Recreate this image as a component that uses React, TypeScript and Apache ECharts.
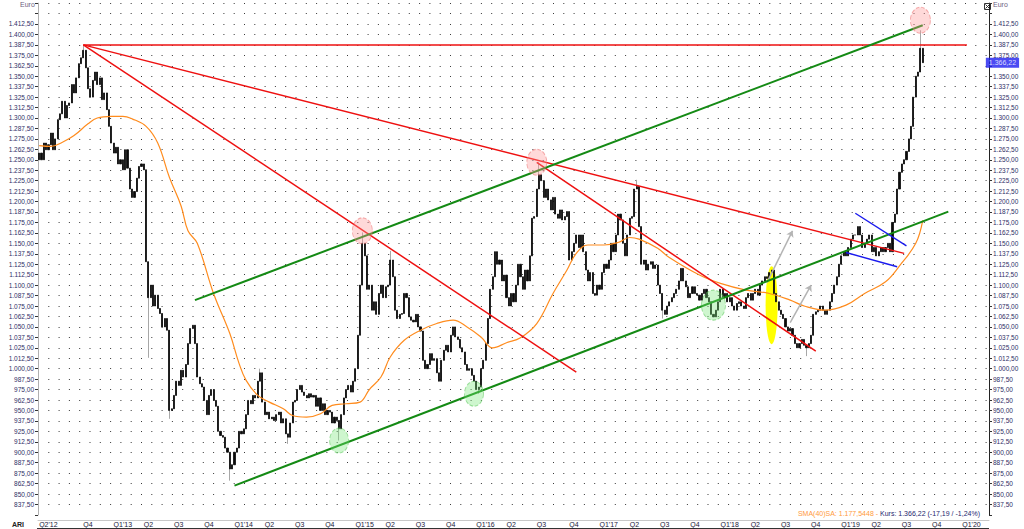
import React, { useEffect, useRef } from 'react';
import * as echarts from 'echarts';

// ---------- data ----------
const START_UTC = Date.UTC(2012, 4, 21); // Monday of first weekly bar
const WEEK_COUNT = 409; // axis extends to spring 2020
const firstOpen = 1250;

// weekly closes (EUR), May 2012 – Sep 2019
const closes = [
  1258, 1250, 1270, 1262, 1268, 1282, 1262, 1275, 1298, 1305,
  1320, 1300, 1315, 1318, 1340, 1330, 1348, 1365, 1372, 1381,
  1360, 1335, 1325, 1345, 1355, 1340, 1348, 1322, 1330, 1310,
  1290, 1270, 1258, 1265, 1245, 1250, 1238, 1262, 1240, 1215,
  1205, 1212, 1228, 1242, 1245, 1238, 1128, 1085, 1100, 1075,
  1088, 1072, 1066, 1050, 1060, 1046, 950, 952, 968, 985,
  980, 998, 990, 1005, 1030, 1048, 1052, 1030, 990, 982,
  978, 962, 945, 968, 975, 962, 955, 925, 920, 918,
  905, 900, 880, 885, 900, 905, 925, 922, 928, 945,
  962, 958, 968, 965, 985, 995, 960, 945, 948, 940,
  942, 938, 945, 948, 935, 940, 922, 918, 935, 960,
  962, 975, 980, 972, 968, 965, 970, 966, 968, 955,
  965, 950, 958, 945, 950, 948, 935, 942, 938, 928,
  945, 965, 975, 980, 972, 985, 1000, 1040, 1100, 1150,
  1135, 1095, 1100, 1070, 1080, 1065, 1090, 1100, 1085, 1098,
  1100, 1130, 1110, 1070, 1060, 1065, 1066, 1090, 1085, 1062,
  1058, 1056, 1065, 1050, 1045, 1010, 1000, 1005, 1018, 1010,
  1012, 995, 985, 1010, 1022, 1028, 1020, 1040, 1050, 1038,
  1035, 1025, 1020, 1005, 998, 1000, 992, 985, 975, 978,
  1000, 1010, 1030, 1060, 1095, 1110, 1140, 1125, 1130, 1105,
  1112, 1085, 1075, 1090, 1080, 1100, 1125, 1110, 1095, 1118,
  1105, 1135, 1180, 1182, 1215, 1232, 1225, 1205, 1215, 1202,
  1190, 1205, 1185, 1180, 1190, 1178, 1182, 1188, 1130, 1140,
  1150, 1160, 1145, 1160, 1140, 1118, 1105, 1115, 1090, 1088,
  1100, 1095, 1115, 1125, 1120, 1130, 1150, 1140, 1160, 1185,
  1178, 1150, 1135, 1160, 1180, 1182, 1215, 1218, 1170, 1125,
  1130, 1118, 1125, 1128, 1120, 1124, 1100, 1090, 1070, 1065,
  1075, 1080, 1085, 1090, 1095, 1105, 1120, 1105, 1098, 1085,
  1090, 1098, 1090, 1088, 1082, 1090, 1095, 1085, 1080, 1065,
  1062, 1070, 1080, 1095, 1085, 1090, 1080, 1085, 1075, 1070,
  1078, 1080, 1075, 1072, 1085, 1090, 1082, 1090, 1095, 1088,
  1100, 1105, 1110, 1108, 1115, 1118, 1090, 1080, 1070, 1065,
  1060, 1050, 1045, 1048, 1040, 1030, 1025, 1030, 1035, 1028,
  1025, 1030, 1040, 1065, 1068, 1070, 1075, 1070, 1065, 1070,
  1080, 1090, 1100, 1110, 1125, 1135, 1140, 1135, 1145, 1155,
  1160, 1160, 1170, 1160, 1145, 1150, 1155, 1160, 1140, 1145,
  1135, 1140, 1145, 1140, 1145, 1150, 1140, 1175, 1185, 1215,
  1235, 1245, 1250, 1260, 1275, 1290, 1325, 1350, 1355, 1383.41,
  1366.22,
];

// notable wick extremes
const highWeeks = [19, 95, 139, 151, 215, 257, 379];
const highValues = [1387.5, 1000, 1163, 1141, 1247, 1226, 1405];
const lowWeeks = [47, 56, 82, 107, 129, 189, 268, 330];
const lowValues = [1013, 940, 866, 910, 914, 970, 1060, 1015];

// SMA(40)
const smaWeeks = [0, 5, 10, 15, 21, 25, 31, 36, 40, 46, 51, 56, 61, 64, 68, 75, 82, 86, 89, 94, 99, 105, 109, 115, 121, 126, 132, 138, 142, 147, 151, 157, 164, 171, 178, 184, 190, 195, 201, 207, 214, 221, 227, 231, 236, 243, 249, 254, 258, 266, 271, 284, 293, 304, 314, 323, 329, 338, 347, 355, 364, 370, 377, 380];
const smaValues = [1267, 1266, 1271, 1279, 1293, 1300, 1302, 1302, 1299, 1290, 1270, 1229, 1195, 1165, 1150, 1090, 1042, 1006, 986, 968, 960, 952, 944, 942, 946, 956, 958, 960, 975, 990, 1014, 1034, 1046, 1054, 1058, 1050, 1038, 1025, 1031, 1037, 1054, 1090, 1118, 1138, 1148, 1148, 1151, 1157, 1155, 1144, 1133, 1112, 1102, 1094, 1090, 1082, 1075, 1070, 1076, 1090, 1104, 1123, 1150, 1177.54];

// trend lines: [week, price] -> [week, price]
const redLines = [
  [[19, 1387.5], [399, 1387.5]],
  [[19, 1387.5], [231, 996]],
  [[19, 1387.5], [372, 1138]],
  [[214, 1247], [334, 1021]],
];
const greenLines = [
  [[67, 1082], [380, 1411]],
  [[84, 860], [391, 1188]],
];
const blueLines = [
  [[351, 1186], [373, 1147]],
  [[347, 1139], [369, 1122]],
];
const arrows = [
  [[313, 1103], [324, 1165]],
  [[323, 1055], [332, 1100]],
];
const pinkMarks = [[139, 1165], [214, 1247], [379, 1417]];
const greenMarks = [[129, 914], [187, 970], [290, 1076]];
const yellowMark = [315, 1076];

const lastPrice = 1366.22;
const legendSma = 'SMA(40)SA: 1.177,5448 - ';
const legendKurs = 'Kurs: 1.366,22 (-17,19 / -1,24%)';

// ---------- helpers ----------
const deFmt = (v: number) => {
  const s = v.toFixed(2);
  const [i, d] = s.split('.');
  return i.replace(/\B(?=(\d{3})+(?!\d))/g, '.') + ',' + d;
};

const categories: string[] = [];
const quarterOf: number[] = [];
const yearOf: number[] = [];
for (let i = 0; i < WEEK_COUNT; i++) {
  const d = new Date(START_UTC + (i * 7 + 4) * 86400000);
  categories.push(d.toISOString().slice(0, 10));
  quarterOf.push(Math.floor(d.getUTCMonth() / 3) + 1);
  yearOf.push(d.getUTCFullYear());
}
const labelText: Record<number, string> = {};
let lastShown = -100;
for (let i = 0; i < WEEK_COUNT; i++) {
  if (i === 0 || quarterOf[i] !== quarterOf[i - 1]) {
    if (i - lastShown >= 10) {
      const q = quarterOf[i];
      const yy = String(yearOf[i]).slice(2);
      labelText[i] = i === 0 || q === 1 ? `Q${q}'${yy}` : `Q${q}`;
      lastShown = i;
    }
  }
}
const showQ = (i: number) => labelText[i] !== undefined;

const bodies = closes.map((c, i) => {
  const o = i === 0 ? firstOpen : closes[i - 1];
  return [o, c, Math.min(o, c), Math.max(o, c)];
});
const wicks = closes.map((c, i) => {
  const o = i === 0 ? firstOpen : closes[i - 1];
  let lo = Math.min(o, c);
  let hi = Math.max(o, c);
  const hIdx = highWeeks.indexOf(i);
  if (hIdx >= 0) hi = Math.max(hi, highValues[hIdx]);
  const lIdx = lowWeeks.indexOf(i);
  if (lIdx >= 0) lo = Math.min(lo, lowValues[lIdx]);
  const mid = (o + c) / 2;
  return [mid, mid, lo, hi];
});

const lineItems = (lines: number[][][], color: string, width: number) =>
  lines.map(([a, b]) => [
    { coord: a, lineStyle: { color, width, type: 'solid' } },
    { coord: b, lineStyle: { color, width, type: 'solid' } },
  ]);

const yLabelFmt = (v: number) => (v < 837 || v > 1413 ? '' : deFmt(v));
// right axis: the current-price box takes the place of the nearest tick label
const yLabelFmtRight = (v: number) =>
  Math.abs(v - lastPrice) < 6.25 ? '' : yLabelFmt(v);

const App: React.FC = () => {
  const ref = useRef<HTMLDivElement>(null);
  useEffect(() => {
    if (!ref.current) return;
    const chart = echarts.init(ref.current, undefined, { renderer: 'svg' });
    const font = 'Liberation Sans, Arial, sans-serif';
    const option: any = {
      animation: false,
      backgroundColor: '#ffffff',
      grid: { left: 38, right: 35, top: 3.1, bottom: 14.1 },
      xAxis: {
        type: 'category',
        data: categories,
        boundaryGap: true,
        offset: 5,
        axisLine: { lineStyle: { color: '#c8c8c8', width: 1 } },
        axisTick: { interval: showQ, length: 9, lineStyle: { color: '#222', width: 1 } },
        axisLabel: {
          interval: showQ,
          formatter: (_v: string, i: number) => labelText[i] || '',
          align: 'left',
          margin: 1,
          fontSize: 7,
          fontFamily: font,
          color: '#1a1a3a',
        },
        splitLine: { show: false },
      },
      yAxis: [
        {
          type: 'value',
          position: 'left',
          min: 825,
          max: 1437.5,
          interval: 12.5,
          axisLine: { show: true, lineStyle: { color: '#b0b0b0' } },
          axisTick: { show: true, length: 3, lineStyle: { color: '#333' } },
          axisLabel: { formatter: yLabelFmt, fontSize: 6.5, fontFamily: font, color: '#2e2e66', margin: 4 },
          splitLine: {
            show: true,
            showMinLine: false,
            lineStyle: { color: '#3a3a3a', width: 1, type: [1, 9.3] },
          },
        },
        {
          type: 'value',
          position: 'right',
          min: 825,
          max: 1437.5,
          interval: 12.5,
          axisLine: { show: true, lineStyle: { color: '#222' } },
          axisTick: { show: true, length: 3, lineStyle: { color: '#333' } },
          axisLabel: { formatter: yLabelFmtRight, fontSize: 6.5, fontFamily: font, color: '#2e2e66', margin: 4 },
          splitLine: { show: false },
        },
      ],
      series: [
        {
          name: 'highlight',
          type: 'scatter',
          z: 1,
          silent: true,
          data: [{ value: yellowMark, symbolSize: [12, 78] }],
          itemStyle: { color: '#ffff00', opacity: 1 },
        },
        {
          name: 'wicks',
          type: 'candlestick',
          z: 2,
          barWidth: 1,
          data: wicks,
          itemStyle: {
            color: '#a8a8a8',
            color0: '#a8a8a8',
            borderColor: '#a8a8a8',
            borderColor0: '#a8a8a8',
            borderWidth: 1,
          },
        },
        {
          name: 'Kurs',
          type: 'candlestick',
          z: 3,
          barWidth: 1.6,
          data: bodies,
          itemStyle: {
            color: '#0a0a0a',
            color0: '#0a0a0a',
            borderColor: '#0a0a0a',
            borderColor0: '#0a0a0a',
            borderWidth: 0.8,
          },
          markLine: {
            silent: true,
            symbol: ['none', 'arrow'],
            symbolSize: 6,
            label: { show: false },
            lineStyle: { color: '#b4b4b4', width: 1.5, type: 'solid' },
            data: arrows.map(([a, b]) => [{ coord: a }, { coord: b }]),
          },
        },
        {
          name: 'SMA(40)SA',
          type: 'line',
          z: 4,
          smooth: 0.4,
          showSymbol: false,
          symbol: 'none',
          data: smaWeeks.map((w, i) => [w, smaValues[i]]),
          lineStyle: { color: '#ff8c1e', width: 1.2 },
          markLine: {
            silent: true,
            symbol: ['none', 'none'],
            label: { show: false },
            data: [
              ...lineItems(redLines, '#ee1010', 1.5),
              ...lineItems(greenLines, '#148a14', 2),
              ...lineItems(blueLines, '#1a1aee', 1.4),
            ],
          },
        },
        {
          name: 'marks',
          type: 'scatter',
          z: 5,
          silent: true,
          data: [
            ...pinkMarks.map((p) => ({
              value: p,
              symbolSize: [20, 26],
              itemStyle: {
                color: 'rgba(255,150,150,0.45)',
                borderColor: 'rgba(235,110,110,0.7)',
                borderWidth: 1,
                borderType: 'dashed',
              },
            })),
            ...greenMarks.map((p, i) => ({
              value: p,
              symbolSize: i === 2 ? [24, 30] : [19, 25],
              itemStyle: {
                color: 'rgba(120,230,120,0.45)',
                borderColor: 'rgba(90,200,90,0.7)',
                borderWidth: 1,
                borderType: 'dashed',
              },
            })),
          ],
        },
        {
          name: 'lastPrice',
          type: 'scatter',
          z: 10,
          silent: true,
          symbolSize: 0,
          clip: false,
          data: [[WEEK_COUNT - 1, lastPrice]],
          label: {
            show: true,
            position: 'right',
            distance: -2,
            formatter: () => deFmt(lastPrice),
            backgroundColor: '#1e1ef0',
            color: '#ffffff',
            fontSize: 7,
            fontFamily: font,
            padding: [2, 3, 1, 3],
          },
        },
      ],
      graphic: [
        { type: 'text', left: 20, top: 1, style: { text: 'Euro', fontSize: 7, fontFamily: font, fill: '#6e5e80' } },
        { type: 'text', left: 993, top: 1, style: { text: 'Euro', fontSize: 7, fontFamily: font, fill: '#6e5e80' } },
        {
          type: 'group',
          left: 983,
          top: 2,
          children: [
            { type: 'rect', shape: { x: 0, y: 0, width: 6, height: 6 }, style: { fill: '#fff', stroke: '#333', lineWidth: 1 } },
            { type: 'line', shape: { x1: 1, y1: 1, x2: 5, y2: 5 }, style: { stroke: '#333', lineWidth: 1 } },
            { type: 'line', shape: { x1: 5, y1: 1, x2: 1, y2: 5 }, style: { stroke: '#333', lineWidth: 1 } },
          ],
        },
        { type: 'text', left: 12, top: 521, style: { text: 'ARI', fontSize: 7, fontWeight: 'bold', fontFamily: font, fill: '#222' } },
        {
          type: 'text',
          right: 44,
          top: 510,
          style: {
            text: `{o|${legendSma}}{k|${legendKurs}}`,
            fontSize: 7,
            fontFamily: font,
            rich: {
              o: { fill: '#ff9a3c', fontSize: 7, fontFamily: font },
              k: { fill: '#1e1e6e', fontSize: 7, fontFamily: font },
            },
          },
        },
        { type: 'line', shape: { x1: 37, y1: 528.5, x2: 989, y2: 528.5 }, style: { stroke: '#333', lineWidth: 1 } },
      ],
    };
    chart.setOption(option);
    return () => chart.dispose();
  }, []);
  return (
    <div
      ref={ref}
      style={{ position: 'fixed', left: 0, top: 0, width: 1024, height: 529, background: '#fff' }}
    />
  );
};

export default App;
